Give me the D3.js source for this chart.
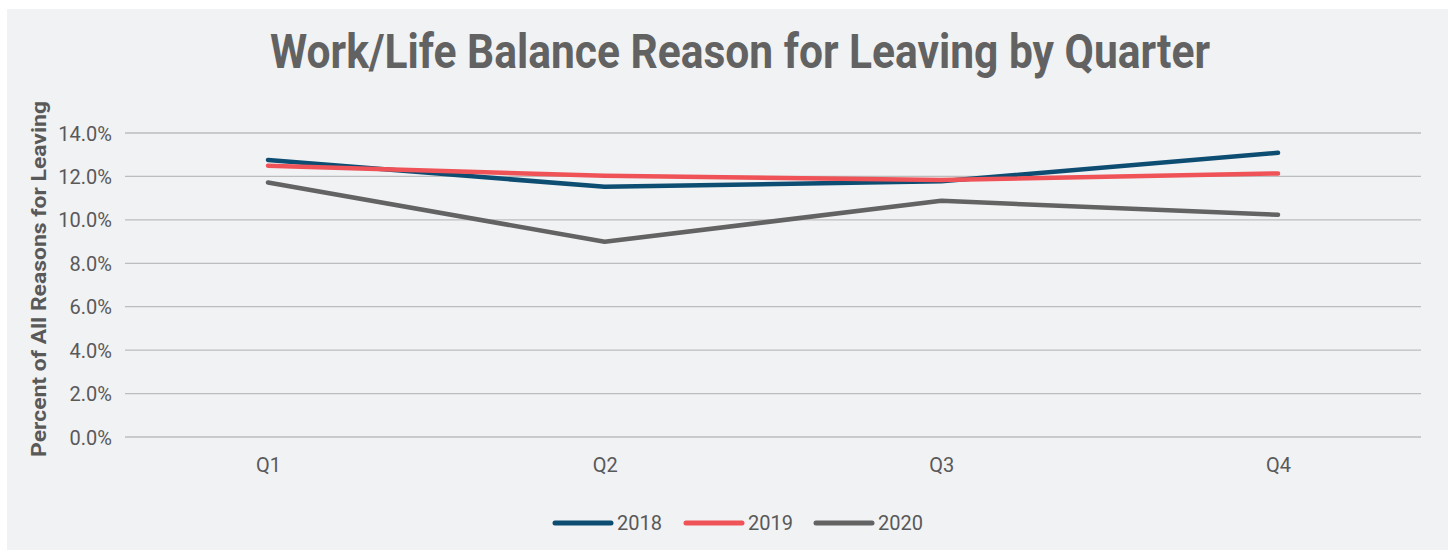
<!DOCTYPE html>
<html lang="en">
  <head>
    <meta charset="UTF-8" />
    <script src="https://cdn.jsdelivr.net/npm/d3@7"></script>
    <title>Work/Life Balance Reason for Leaving by Quarter</title>
    <style>
      body { margin: 0; background: #ffffff; }
      svg { display: block; font-family: Roboto, "Noto Sans", sans-serif; }
      .tick text { fill: #595959; }
    </style>
  </head>
  <body>
    <div id="chart"></div>
    <script>
      // data
      var quarters = ["Q1", "Q2", "Q3", "Q4"];
      var years = ["2018", "2019", "2020"];
      var values2018 = [12.76, 11.52, 11.78, 13.09];
      var values2019 = [12.49, 12.03, 11.84, 12.14];
      var values2020 = [11.72, 8.99, 10.88, 10.23];
      var yTicks = [0, 2, 4, 6, 8, 10, 12, 14];
      var colors = ["#0e4d72", "#ef5357", "#636363"];

      var series = [values2018, values2019, values2020].map(function (v, i) {
        return { name: years[i], color: colors[i], values: v };
      });

      var width = 1448, height = 550;
      var svg = d3.select("#chart").append("svg")
        .attr("width", width).attr("height", height);

      svg.append("rect")
        .attr("x", 7).attr("y", 9)
        .attr("width", width - 7).attr("height", height - 9)
        .attr("fill", "#f1f2f4");

      // title
      svg.append("text")
        .attr("x", 740).attr("y", 68)
        .attr("text-anchor", "middle")
        .attr("font-size", 49).attr("font-weight", 700)
        .attr("fill", "#626262")
        .attr("textLength", 940).attr("lengthAdjust", "spacingAndGlyphs")
        .text("Work/Life Balance Reason for Leaving by Quarter");

      var gridLeft = 125, gridRight = 1421;
      var x = d3.scalePoint().domain(quarters).range([268, 1278]);
      var y = d3.scaleLinear().domain([0, 14]).range([437, 133]);

      // gridlines
      svg.append("g")
        .selectAll("line")
        .data(yTicks)
        .join("line")
        .attr("x1", gridLeft).attr("x2", gridRight)
        .attr("y1", function (d) { return y(d); })
        .attr("y2", function (d) { return y(d); })
        .attr("stroke", "#bdbdbd").attr("stroke-width", 1.3);

      // y axis labels
      var yAxis = svg.append("g")
        .attr("transform", "translate(" + (gridLeft - 13) + ",0)")
        .call(d3.axisLeft(y).tickValues(yTicks).tickSize(0)
          .tickFormat(function (d) { return d.toFixed(1) + "%"; }));
      yAxis.select(".domain").remove();
      yAxis.selectAll("text").attr("font-size", 20).attr("font-family", "Roboto")
        .attr("x", 0).attr("dy", "0.35em");

      // x axis labels
      var xAxis = svg.append("g")
        .attr("transform", "translate(0,458)")
        .call(d3.axisBottom(x).tickSize(0));
      xAxis.select(".domain").remove();
      xAxis.selectAll("text").attr("font-size", 20).attr("font-family", "Roboto")
        .attr("y", 0).attr("dy", "0.71em");

      // y axis title
      svg.append("text")
        .attr("transform", "translate(46,279) rotate(-90)")
        .attr("text-anchor", "middle")
        .attr("font-size", 21).attr("font-weight", 700)
        .attr("fill", "#595959")
        .attr("textLength", 356).attr("lengthAdjust", "spacingAndGlyphs")
        .text("Percent of All Reasons for Leaving");

      // lines
      var line = d3.line()
        .x(function (d, i) { return x(quarters[i]); })
        .y(function (d) { return y(d); });

      svg.append("g")
        .selectAll("path")
        .data(series)
        .join("path")
        .attr("d", function (s) { return line(s.values); })
        .attr("fill", "none")
        .attr("stroke", function (s) { return s.color; })
        .attr("stroke-width", 4.5)
        .attr("stroke-linecap", "round")
        .attr("stroke-linejoin", "round");

      // legend
      var legendX = [555, 686, 816];
      var legend = svg.append("g")
        .selectAll("g")
        .data(series)
        .join("g")
        .attr("transform", function (s, i) { return "translate(" + legendX[i] + ",523)"; });
      legend.append("line")
        .attr("x1", 0).attr("x2", 56)
        .attr("stroke", function (s) { return s.color; })
        .attr("stroke-width", 5).attr("stroke-linecap", "round");
      legend.append("text")
        .attr("x", 62).attr("dy", "0.35em")
        .attr("font-size", 20).attr("fill", "#595959")
        .text(function (s) { return s.name; });
    </script>
  </body>
</html>
